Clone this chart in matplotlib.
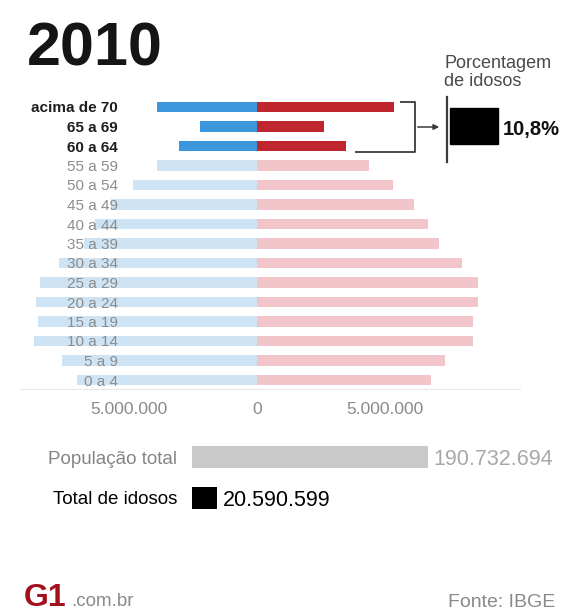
import matplotlib
matplotlib.use("Agg")
import matplotlib.pyplot as plt
from matplotlib.patches import Rectangle

# Brazilian population by age group and sex, Census 2010
age_groups = ["acima de 70", "65 a 69", "60 a 64", "55 a 59", "50 a 54", "45 a 49",
              "40 a 44", "35 a 39", "30 a 34", "25 a 29", "20 a 24", "15 a 19",
              "10 a 14", "5 a 9", "0 a 4"]
men = [3891013, 2224065, 3041034, 3902344, 4834995, 5692013, 6320570, 6766665,
       7717657, 8460995, 8630227, 8558868, 8725413, 7624144, 7016987]
women = [5349656, 2616745, 3468085, 4373875, 5305407, 6141338, 6688797, 7121916,
         8026855, 8643418, 8614963, 8432002, 8441348, 7345231, 6779171]
elderly_groups = ["acima de 70", "65 a 69", "60 a 64"]

tick_values = [-5000000, 0, 5000000]
tick_labels = ["5.000.000", "0", "5.000.000"]

total_labels = ["População total", "Total de idosos"]
total_values = [190732694, 20590599]

FONT = ["Liberation Sans", "DejaVu Sans"]
plt.rcParams["font.family"] = FONT

W, H, DPI = 566, 615, 100
fig = plt.figure(figsize=(W / DPI, H / DPI), dpi=DPI)
fig.patch.set_facecolor("white")


def axes_px(left, top, right, bottom):
    return fig.add_axes([left / W, 1 - bottom / H, (right - left) / W, (bottom - top) / H])


# ---- age pyramid ----
px_per_unit = 25.6e-6          # pixels per person
zero_px = 257
row0_px, row_step = 107, 19.5
ax_l, ax_t, ax_r, ax_b = 20, 95, 520, 389
ax = axes_px(ax_l, ax_t, ax_r, ax_b)
ax.set_xlim(-(zero_px - ax_l) / px_per_unit, (ax_r - zero_px) / px_per_unit)
ax.set_ylim((ax_b - row0_px) / row_step, (ax_t - row0_px) / row_step)

rows = list(range(len(age_groups)))
blue_dark, blue_light = "#3b96dc", "#cee4f4"
red_dark, red_light = "#c0262e", "#f1c5c9"
men_colors = [blue_dark if g in elderly_groups else blue_light for g in age_groups]
women_colors = [red_dark if g in elderly_groups else red_light for g in age_groups]

ax.barh(rows, [-m for m in men], height=0.52, color=men_colors, zorder=1)
ax.barh(rows, women, height=0.52, color=women_colors, zorder=1)

label_x = -(zero_px - 118) / px_per_unit
for r, g in zip(rows, age_groups):
    elderly = g in elderly_groups
    ax.text(label_x, r, g, ha="right", va="center_baseline", fontsize=11,
            fontweight="bold" if elderly else "normal",
            color="#1e1e1e" if elderly else "#8c8c8c", zorder=3)

ax.set_xticks(tick_values)
ax.set_xticklabels(tick_labels)
ax.tick_params(axis="x", length=0, pad=9, labelsize=12.5, labelcolor="#8a8a8a")
ax.set_yticks([])
for s in ["top", "left", "right"]:
    ax.spines[s].set_visible(False)
ax.spines["bottom"].set_color("#e8e8e8")
ax.patch.set_alpha(0)

# ---- totals ----
tx_l, tx_r = 192, 566
tax = axes_px(tx_l, 430, tx_r, 520)
tax.set_xlim(0, (tx_r - tx_l) / 236 * total_values[0])
tax.set_ylim((520 - 457) / 41, (430 - 457) / 41)
tax.barh([0, 1], total_values, height=0.52, color=["#c9c9c9", "#000000"])
tax.axis("off")
label_colors = ["#858585", "#000000"]
value_colors = ["#a8a8a8", "#000000"]
off = 5 / 236 * total_values[0]
for i, (lab, v) in enumerate(zip(total_labels, total_values)):
    tax.text(-15 / 236 * total_values[0], i, lab, ha="right", va="center_baseline",
             fontsize=13.5, color=label_colors[i])
    tax.text(v + off, i, f"{v:,}".replace(",", "."), ha="left", va="center_baseline",
             fontsize=15.5, color=value_colors[i])

# ---- overlay for title, bracket and footer ----
ov = fig.add_axes([0, 0, 1, 1], zorder=5)
ov.set_xlim(0, W)
ov.set_ylim(H, 0)
ov.axis("off")
ov.patch.set_alpha(0)

ov.text(27, 65, "2010", fontsize=44, fontweight="bold", color="#151515",
        ha="left", va="baseline")

bk = dict(color="#3a3a3a", lw=1.3, solid_capstyle="butt")
ov.plot([400, 415, 415, 355], [102, 102, 152, 152], **bk)
ov.annotate("", xy=(442, 127), xytext=(415, 127),
            arrowprops=dict(arrowstyle="-|>", color="#3a3a3a", lw=1.1,
                            mutation_scale=8))
ov.plot([447, 447], [97, 162], color="#3a3a3a", lw=1.6)
ov.add_patch(Rectangle((450, 108), 48, 36, color="#000000"))

pct = total_values[1] / total_values[0] * 100
ov.text(503, 127, f"{pct:.1f}%".replace(".", ","), fontsize=14.5,
        fontweight="bold", color="#111111", ha="left", va="center_baseline")
ov.text(444, 62, "Porcentagem", fontsize=13, color="#4a4a4a", ha="left",
        va="center_baseline")
ov.text(444, 79, "de idosos", fontsize=13, color="#4a4a4a", ha="left",
        va="center_baseline")

ov.text(24, 606, "G1", fontsize=23, fontweight="bold", color="#a3101c",
        ha="left", va="baseline")
ov.text(71, 606, ".com.br", fontsize=13.5, color="#8a8a8a", ha="left", va="baseline")
ov.text(555, 607, "Fonte: IBGE", fontsize=14, color="#8a8a8a", ha="right", va="baseline")

fig.savefig("out.png", dpi=DPI, facecolor="white")
